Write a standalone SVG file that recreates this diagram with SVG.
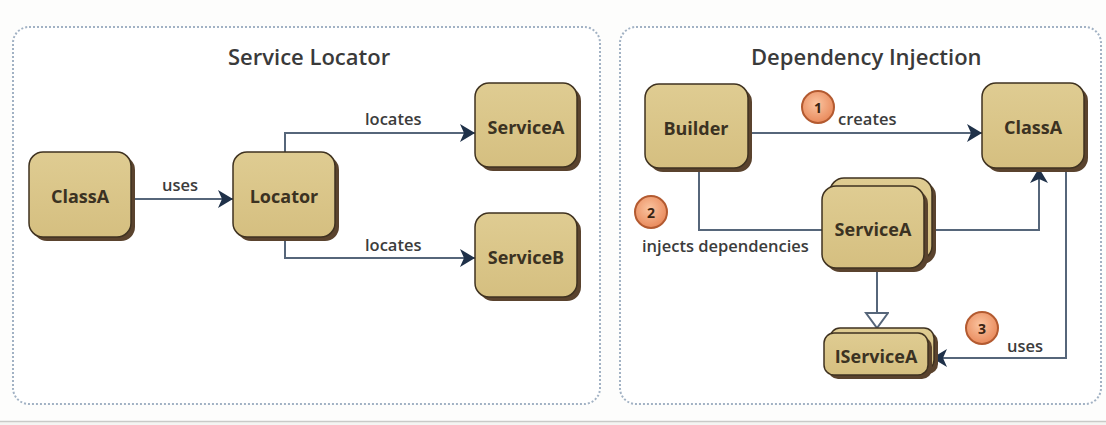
<svg xmlns="http://www.w3.org/2000/svg" width="1106" height="425" viewBox="0 0 1106 425">
  <defs>
    <style>
      .panel { fill: #ffffff; stroke: #a2b2c4; stroke-width: 2; stroke-dasharray: 2 2; }
      .title { font-family: "Open Sans", "Liberation Sans", sans-serif; font-weight: 600; font-size: 22px; fill: #3a3a3a; }
      .shadow { fill: #5a432e; }
      .box { fill: url(#tan); stroke: #3f3220; stroke-width: 1.5; }
      .label { font-family: "Open Sans", "Liberation Sans", sans-serif; font-weight: 700; font-size: 18px; fill: #3b3222; text-anchor: middle; dominant-baseline: central; }
      .edge { fill: none; stroke: #56667a; stroke-width: 2; }
      .elabel { font-family: "Open Sans", "Liberation Sans", sans-serif; font-weight: 600; font-size: 16.5px; fill: #3c3c3c; }
      .step { fill: url(#orange); stroke: #b35a30; stroke-width: 2; }
      .num { font-family: "Open Sans", "Liberation Sans", sans-serif; font-weight: 700; font-size: 14px; fill: #3a2412; text-anchor: middle; dominant-baseline: central; }
    </style>
    <linearGradient id="tan" x1="0" y1="0" x2="0" y2="1">
      <stop offset="0" stop-color="#dfcc92"/>
      <stop offset="1" stop-color="#d5bf80"/>
    </linearGradient>
    <radialGradient id="orange" cx="0.45" cy="0.4" r="0.6">
      <stop offset="0" stop-color="#fac4a0"/>
      <stop offset="1" stop-color="#e98a5c"/>
    </radialGradient>
    <marker id="arrow" markerUnits="userSpaceOnUse" markerWidth="18" markerHeight="20" refX="15" refY="9" orient="auto">
      <path d="M0,0 L15,9 L0,18 L4,9 z" fill="#1f3149"/>
    </marker>
    <marker id="hollow" markerUnits="userSpaceOnUse" markerWidth="20" markerHeight="26" refX="16" refY="12" orient="auto">
      <path d="M1,1 L16,12 L1,23 z" fill="#ffffff" stroke="#56667a" stroke-width="2"/>
    </marker>
  </defs>

  <!-- page background and bottom rule -->
  <rect x="0" y="0" width="1106" height="425" fill="#fdfdfc"/>
  <rect x="0" y="421" width="1106" height="4" fill="#f4f4f2"/>
  <line x1="0" y1="421.5" x2="1106" y2="421.5" stroke="#c9c9c7" stroke-width="1.5"/>

  <!-- panels -->
  <g id="panel-service-locator">
    <rect class="panel" x="13" y="27" width="587" height="377" rx="16"/>
    <text class="title" x="228" y="65">Service Locator</text>
  </g>
  <g id="panel-dependency-injection">
    <rect class="panel" x="620" y="27" width="481" height="377" rx="16"/>
    <text class="title" x="751" y="65">Dependency Injection</text>
  </g>

  <!-- connectors -->
  <g id="connectors">
    <!-- Service Locator -->
    <path class="edge" d="M131,199 H233" marker-end="url(#arrow)"/>
    <text class="elabel" x="162" y="191">uses</text>
    <path class="edge" d="M285,152 V133 H475" marker-end="url(#arrow)"/>
    <text class="elabel" x="365" y="125">locates</text>
    <path class="edge" d="M285,237 V258 H475" marker-end="url(#arrow)"/>
    <text class="elabel" x="365" y="251">locates</text>

    <!-- Dependency Injection -->
    <path class="edge" d="M748,133 H982" marker-end="url(#arrow)"/>
    <text class="elabel" x="838" y="125">creates</text>
    <path class="edge" d="M699,168 V230 H822"/>
    <text class="elabel" x="642" y="252">injects dependencies</text>
    <path class="edge" d="M924,230 H1039 V168" marker-end="url(#arrow)"/>
    <path class="edge" d="M877,268 V328" marker-end="url(#hollow)"/>
    <path class="edge" d="M1066,168 V358 H932" marker-end="url(#arrow)"/>
    <text class="elabel" x="1007" y="352">uses</text>
  </g>

  <!-- numbered steps -->
  <g id="step-1">
    <circle class="step" cx="818" cy="107" r="16"/>
    <text class="num" x="818" y="107">1</text>
  </g>
  <g id="step-2">
    <circle class="step" cx="651" cy="212" r="16"/>
    <text class="num" x="651" y="212">2</text>
  </g>
  <g id="step-3">
    <circle class="step" cx="982" cy="328" r="16"/>
    <text class="num" x="982" y="328">3</text>
  </g>

  <!-- Service Locator nodes -->
  <g id="sl-classa">
    <rect class="shadow" x="33" y="156" width="102" height="85" rx="14"/>
    <rect class="box" x="29" y="152" width="102" height="85" rx="14"/>
    <text class="label" x="80" y="196">ClassA</text>
  </g>
  <g id="sl-locator">
    <rect class="shadow" x="237" y="156" width="102" height="85" rx="14"/>
    <rect class="box" x="233" y="152" width="102" height="85" rx="14"/>
    <text class="label" x="284" y="196">Locator</text>
  </g>
  <g id="sl-servicea">
    <rect class="shadow" x="479" y="87" width="102" height="84" rx="14"/>
    <rect class="box" x="475" y="83" width="102" height="84" rx="14"/>
    <text class="label" x="526" y="127">ServiceA</text>
  </g>
  <g id="sl-serviceb">
    <rect class="shadow" x="479" y="217" width="102" height="84" rx="14"/>
    <rect class="box" x="475" y="213" width="102" height="84" rx="14"/>
    <text class="label" x="526" y="257">ServiceB</text>
  </g>

  <!-- Dependency Injection nodes -->
  <g id="di-builder">
    <rect class="shadow" x="649" y="88" width="103" height="84" rx="14"/>
    <rect class="box" x="645" y="84" width="103" height="84" rx="14"/>
    <text class="label" x="696" y="128">Builder</text>
  </g>
  <g id="di-classa">
    <rect class="shadow" x="986" y="87" width="102" height="85" rx="14"/>
    <rect class="box" x="982" y="83" width="102" height="85" rx="14"/>
    <text class="label" x="1033" y="127">ClassA</text>
  </g>
  <g id="di-servicea">
    <rect class="shadow" x="834" y="182" width="102" height="82" rx="14"/>
    <rect class="box" x="830" y="178" width="102" height="82" rx="14"/>
    <rect class="shadow" x="826" y="190" width="102" height="82" rx="14"/>
    <rect class="box" x="822" y="186" width="102" height="82" rx="14"/>
    <text class="label" x="873" y="229">ServiceA</text>
  </g>
  <g id="di-iservicea">
    <rect class="shadow" x="834" y="332" width="104" height="42" rx="10"/>
    <rect class="box" x="830" y="328" width="104" height="42" rx="10"/>
    <rect class="shadow" x="828" y="337" width="104" height="42" rx="10"/>
    <rect class="box" x="824" y="333" width="104" height="42" rx="10"/>
    <text class="label" x="876" y="356">IServiceA</text>
  </g>
</svg>
